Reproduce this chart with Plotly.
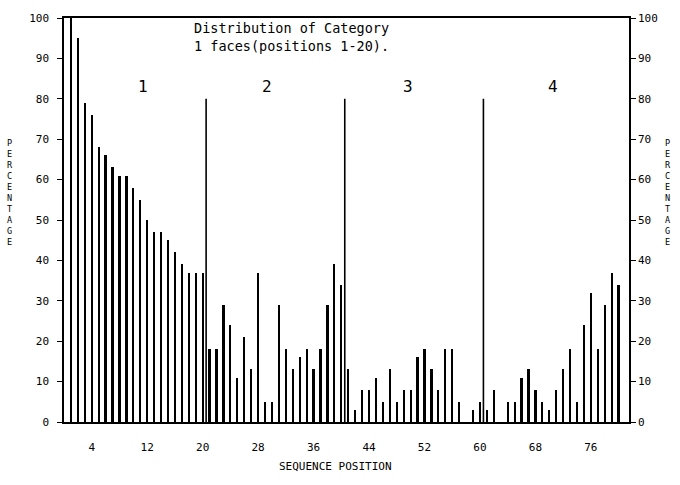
import plotly.graph_objects as go

section1 = [100, 95, 79, 76, 68, 66, 63, 61, 61, 58, 55, 50, 47, 47, 45, 42, 39, 37, 37, 37]
section2 = [18, 18, 29, 24, 11, 21, 13, 37, 5, 5, 29, 18, 13, 16, 18, 13, 18, 29, 39, 34]
section3 = [13, 3, 8, 8, 11, 5, 13, 5, 8, 8, 16, 18, 13, 8, 18, 18, 5, 0, 3, 5]
section4 = [3, 8, 0, 5, 5, 11, 13, 8, 5, 3, 8, 13, 18, 5, 24, 32, 18, 29, 37, 34]
positions = list(range(1, 81))
values = section1 + section2 + section3 + section4

divider_x = [20.5, 40.5, 60.5]
divider_top = 80
section_labels = ["1", "2", "3", "4"]
section_label_x = [11.4, 29.3, 49.6, 70.6]
section_label_y = 83
x_ticks = [4, 12, 20, 28, 36, 44, 52, 60, 68, 76]
y_ticks = list(range(0, 101, 10))

FONT = "DejaVu Sans Mono"

fig = go.Figure()
fig.add_trace(go.Bar(x=positions, y=values, width=0.32,
                     marker=dict(color="black", line=dict(width=0)),
                     showlegend=False, hoverinfo="x+y"))
# invisible trace on right axis
fig.add_trace(go.Scatter(x=[0], y=[0], yaxis="y2", mode="markers",
                         marker=dict(opacity=0), showlegend=False, hoverinfo="skip"))

for dx in divider_x:
    fig.add_trace(go.Scatter(x=[dx, dx], y=[0, divider_top], mode="lines",
                             line=dict(color="black", width=1.6),
                             showlegend=False, hoverinfo="skip"))

for lab, lx in zip(section_labels, section_label_x):
    fig.add_annotation(x=lx, y=section_label_y, text=lab, showarrow=False,
                       font=dict(family=FONT, size=16, color="black"))

fig.add_annotation(xref="paper", yref="paper", x=0.4035, y=1.0,
                   xanchor="center", yanchor="top",
                   text="Distribution of Category<br>1 faces(positions 1-20).",
                   showarrow=False, align="center",
                   font=dict(family=FONT, size=13.5, color="black"))

fig.add_annotation(xref="paper", yref="paper", x=0.48, y=-0.11,
                   xanchor="center", yanchor="middle",
                   text="SEQUENCE POSITION", showarrow=False,
                   font=dict(family=FONT, size=11, color="black"))

vert = "<br>".join(list("PERCENTAGE"))
fig.add_annotation(xref="paper", yref="paper", x=-0.095, y=0.567, text=vert,
                   xanchor="center", yanchor="middle",
                   showarrow=False, font=dict(family=FONT, size=8.5, color="black"))
fig.add_annotation(xref="paper", yref="paper", x=1.069, y=0.567, text=vert,
                   xanchor="center", yanchor="middle",
                   showarrow=False, font=dict(family=FONT, size=8.5, color="black"))

fig.update_layout(
    width=680, height=485,
    margin=dict(l=64, r=51, t=15, b=63),
    paper_bgcolor="white", plot_bgcolor="white",
    bargap=0,
    xaxis=dict(range=[0, 81.5], tickvals=x_ticks, ticktext=[str(t) for t in x_ticks],
               showgrid=False, zeroline=False, showline=True, linecolor="black",
               linewidth=1.5, mirror=True, ticks="", ticklabelstandoff=14,
               tickfont=dict(family=FONT, size=11, color="black")),
    yaxis=dict(range=[0, 100], tickvals=y_ticks, showgrid=False, zeroline=False,
               showline=True, linecolor="black", linewidth=1.5, ticks="outside",
               ticklen=5, tickcolor="black", tickwidth=1, ticklabelstandoff=6,
               tickfont=dict(family=FONT, size=11, color="black")),
    yaxis2=dict(range=[0, 100], tickvals=y_ticks, overlaying="y", side="right",
                showgrid=False, zeroline=False, showline=True, linecolor="black",
                linewidth=1.5, ticks="outside", ticklen=5, tickcolor="black",
                ticklabelstandoff=0,
                tickfont=dict(family=FONT, size=11, color="black")),
)

fig.write_html("out.html")
